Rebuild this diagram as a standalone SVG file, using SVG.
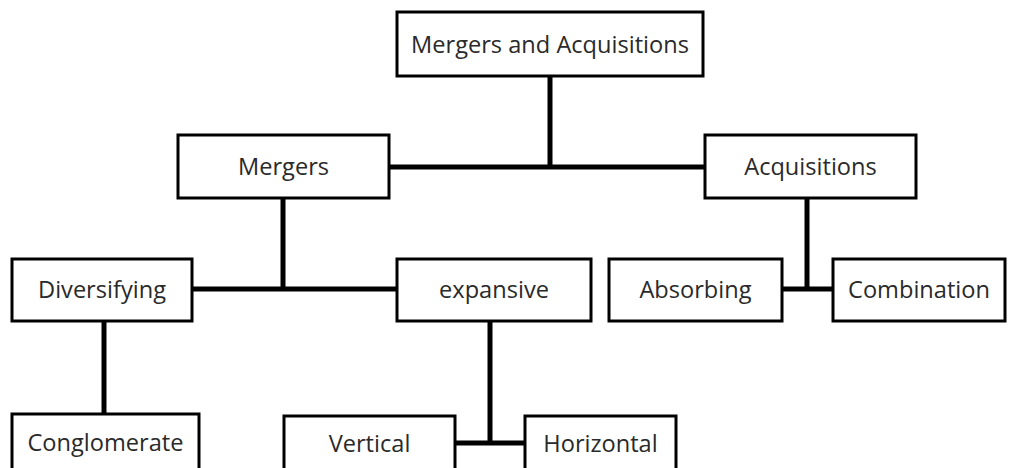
<svg xmlns="http://www.w3.org/2000/svg" width="1011" height="468" viewBox="0 0 1011 468">
<style>
.box{fill:#fff;stroke:#000;stroke-width:3}
.lbl{font-family:"Open Sans","Liberation Sans",sans-serif;font-size:23.6px;fill:#2a2a2a;text-anchor:middle}
.con{stroke:#000;stroke-width:5;fill:none}
</style>
<rect width="1011" height="468" fill="#fff"/>
<g id="connectors">
<path class="con" d="M550 76V167M389 167H705"/>
<path class="con" d="M283 198V289M192 289H397"/>
<path class="con" d="M807 198V289M782 289H833"/>
<path class="con" d="M104 321V414"/>
<path class="con" d="M490 321V443M455 443H525"/>
</g>
<g id="n-ma"><rect class="box" x="397" y="12" width="306" height="64"/><text class="lbl" x="550" y="53">Mergers and Acquisitions</text></g>
<g id="n-mergers"><rect class="box" x="178" y="135" width="211" height="63"/><text class="lbl" x="283.5" y="175">Mergers</text></g>
<g id="n-acq"><rect class="box" x="705" y="135" width="211" height="63"/><text class="lbl" x="810.5" y="175">Acquisitions</text></g>
<g id="n-div"><rect class="box" x="12" y="259" width="180" height="62"/><text class="lbl" x="102" y="298">Diversifying</text></g>
<g id="n-exp"><rect class="box" x="397" y="259" width="194" height="62"/><text class="lbl" x="494" y="298">expansive</text></g>
<g id="n-abs"><rect class="box" x="609" y="259" width="173" height="62"/><text class="lbl" x="695.5" y="298">Absorbing</text></g>
<g id="n-comb"><rect class="box" x="833" y="259" width="172" height="62"/><text class="lbl" x="919" y="298">Combination</text></g>
<g id="n-cong"><rect class="box" x="12" y="414" width="187" height="64"/><text class="lbl" x="105.5" y="451">Conglomerate</text></g>
<g id="n-vert"><rect class="box" x="284" y="416" width="171" height="64"/><text class="lbl" x="369.5" y="452">Vertical</text></g>
<g id="n-horiz"><rect class="box" x="525" y="416" width="151" height="64"/><text class="lbl" x="600.5" y="452">Horizontal</text></g>
</svg>
